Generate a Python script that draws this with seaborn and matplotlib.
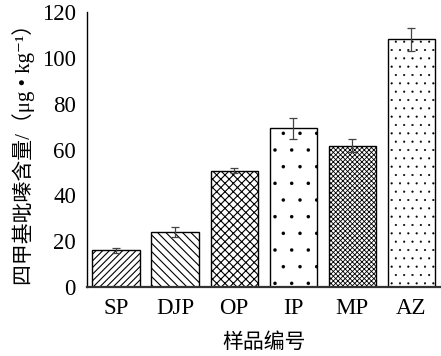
import matplotlib
matplotlib.use("Agg")
import matplotlib.pyplot as plt
import seaborn as sns
import pandas as pd

samples = ["SP", "DJP", "OP", "IP", "MP", "AZ"]
content = [16.0, 24.0, 50.8, 69.2, 61.6, 108.2]
errors = [1.0, 2.0, 1.0, 4.5, 2.8, 5.0]
hatches = ["/////", "\\\\\\\\", "xxxx", ".", "xxxxxxx", ".."]
hatch_lw = [0.8, 0.8, 0.8, 0.1, 0.6, 0.3]
yticks = [0, 20, 40, 60, 80, 100, 120]

sns.set_theme(style="white")
plt.rcParams["font.family"] = ["Liberation Serif", "Noto Sans CJK SC", "DejaVu Sans"]
plt.rcParams["hatch.linewidth"] = 0.8
plt.rcParams["hatch.color"] = "black"

df = pd.DataFrame({"sample": samples, "content": content})

fig = plt.figure(figsize=(4.41, 3.56), dpi=100)
ax = fig.add_axes([87 / 441, 69 / 356, 1 - 87 / 441, (287 - 12) / 356])

sns.barplot(data=df, x="sample", y="content", order=samples, color="white",
            edgecolor="black", linewidth=1.0, width=0.8, errorbar=None, ax=ax)
for p, h, lw in zip(ax.patches, hatches, hatch_lw):
    p.set_hatch(h)
    p.set_facecolor("white")
    p.set_edgecolor("black")
    if hasattr(p, "set_hatch_linewidth"):
        p.set_hatch_linewidth(lw)

ax.errorbar(range(len(samples)), content, yerr=errors, fmt="none",
            ecolor="#444444", elinewidth=0.9, capsize=3, capthick=0.9)

ax.set_xlim(-0.49, 5.5)
ax.set_ylim(0, 120)
ax.set_yticks(yticks)
ax.set_yticklabels([str(t) for t in yticks])
ax.tick_params(axis="y", direction="in", length=3, width=1, labelsize=16.5, pad=8, colors="black")
ax.tick_params(axis="x", length=0, labelsize=16.5, pad=8, colors="black")
for s in ["top", "right"]:
    ax.spines[s].set_visible(False)
ax.spines["left"].set_color("black")
ax.spines["left"].set_linewidth(1.0)
ax.spines["bottom"].set_color("#333333")
ax.spines["bottom"].set_linewidth(1.6)

ax.set_xlabel("样品编号", fontsize=15, labelpad=10, color="black")
ax.set_ylabel("四甲基吡嗪含量/（μg • kg⁻¹）", fontsize=15, labelpad=5, color="black")

fig.savefig("out.png", dpi=100)
